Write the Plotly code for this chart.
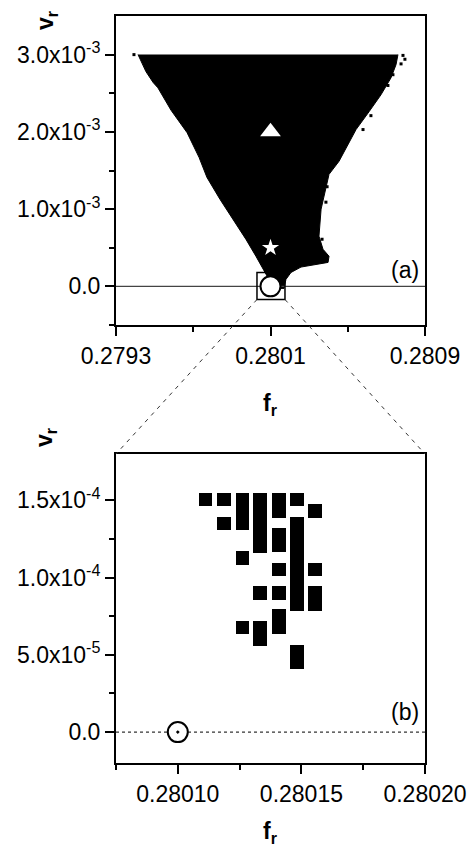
import plotly.graph_objects as go

# ---------------- Panel (a): stable region boundary ----------------
left_f = [0.279414, 0.279455, 0.279492, 0.279517, 0.279585, 0.279668, 0.279730,
          0.279771, 0.279839, 0.279906, 0.279973, 0.280025, 0.280061, 0.280097,
          0.280118]
left_v = [3.00e-3, 2.78e-3, 2.64e-3, 2.57e-3, 2.28e-3, 1.99e-3, 1.67e-3,
          1.41e-3, 1.125e-3, 0.867e-3, 0.608e-3, 0.388e-3, 0.220e-3, 0.052e-3,
          -0.026e-3]
right_f = [0.280170, 0.280180, 0.280206, 0.280258, 0.280398, 0.280403, 0.280372,
           0.280351, 0.280362, 0.280387, 0.280403, 0.280455, 0.280501, 0.280543,
           0.280610, 0.280672, 0.280724, 0.280750, 0.280760]
right_v = [-0.026e-3, 0.09e-3, 0.18e-3, 0.25e-3, 0.31e-3, 0.39e-3, 0.48e-3,
           0.65e-3, 1.00e-3, 1.29e-3, 1.45e-3, 1.62e-3, 1.84e-3, 2.03e-3,
           2.26e-3, 2.48e-3, 2.70e-3, 2.87e-3, 3.00e-3]
stray_f = [0.279393, 0.280786, 0.280796, 0.280776, 0.280734, 0.280708,
           0.280620, 0.280579, 0.280393, 0.280387, 0.280367]
stray_v = [3.00e-3, 2.99e-3, 2.94e-3, 2.88e-3, 2.74e-3, 2.60e-3,
           2.21e-3, 2.03e-3, 1.29e-3, 1.09e-3, 0.61e-3]

# special points in (a)
tri_f, tri_v = [0.2801], [2.0e-3]
star_f, star_v = [0.2801], [0.5e-3]
circ_f, circ_v = [0.2801], [0.0]
box_f = [0.28003, 0.280175]
box_v = [-0.17e-3, 0.18e-3]

# ---------------- Panel (b): zoomed cells ----------------
bar_f = [0.2801112,
         0.2801187, 0.2801187,
         0.2801262, 0.2801262, 0.2801262,
         0.2801333, 0.2801333, 0.2801333,
         0.2801409, 0.2801409, 0.2801409, 0.2801409, 0.2801409,
         0.2801482, 0.2801482, 0.2801482,
         0.2801555, 0.2801555, 0.2801555]
bar_lo = [14.61e-5,
          14.61e-5, 13.07e-5,
          13.10e-5, 10.84e-5, 6.36e-5,
          11.60e-5, 8.57e-5, 5.58e-5,
          13.83e-5, 11.64e-5, 10.08e-5, 8.57e-5, 6.34e-5,
          14.61e-5, 7.81e-5, 4.09e-5,
          13.88e-5, 10.08e-5, 7.81e-5]
bar_hi = [15.45e-5,
          15.45e-5, 13.94e-5,
          15.45e-5, 11.70e-5, 7.20e-5,
          15.45e-5, 9.44e-5, 7.20e-5,
          15.45e-5, 13.23e-5, 10.95e-5, 9.44e-5, 7.97e-5,
          15.45e-5, 13.94e-5, 5.65e-5,
          14.74e-5, 10.95e-5, 9.44e-5]
circ_b_f, circ_b_v = [0.28010], [0.0]

# axes
xa_range = [0.2793 - 1e-9, 0.2809 + 1e-9]
ya_range = [-0.5e-3, 3.5e-3]
xa_ticks = [0.2793, 0.2801, 0.2809]
xa_text = ["0.2793", "0.2801", "0.2809"]
ya_ticks = [0.0, 1.0e-3, 2.0e-3, 3.0e-3]
ya_text = ["0.0", "1.0x10<sup>-3</sup>", "2.0x10<sup>-3</sup>", "3.0x10<sup>-3</sup>"]

xb_range = [0.280075 - 1e-10, 0.28020 + 1e-10]
yb_range = [-2e-5, 1.8e-4]
xb_ticks = [0.28010, 0.28015, 0.28020]
xb_text = ["0.28010", "0.28015", "0.28020"]
yb_ticks = [0.0, 5.0e-5, 1.0e-4, 1.5e-4]
yb_text = ["0.0", "5.0x10<sup>-5</sup>", "1.0x10<sup>-4</sup>", "1.5x10<sup>-4</sup>"]

FONT = "Liberation Sans, Arial, sans-serif"
dom_a = [0.58635, 1.0]
dom_b = [0.0, 0.41365]

fig = go.Figure()

poly_f = left_f + right_f
poly_v = left_v + right_v
fig.add_trace(go.Scatter(x=poly_f, y=poly_v, mode="lines", fill="toself",
                         fillcolor="black", line=dict(color="black", width=1),
                         xaxis="x", yaxis="y", hoverinfo="skip"))
fig.add_trace(go.Scatter(x=stray_f, y=stray_v, mode="markers",
                         marker=dict(symbol="square", size=3, color="black"),
                         xaxis="x", yaxis="y"))
fig.add_trace(go.Scatter(x=xa_range, y=[0, 0], mode="lines",
                         line=dict(color="#444444", width=1.2), xaxis="x", yaxis="y"))
fig.add_trace(go.Scatter(x=tri_f, y=tri_v, mode="markers",
                         marker=dict(symbol="triangle-up", size=18, color="white",
                                     line=dict(width=0)), xaxis="x", yaxis="y"))
fig.add_trace(go.Scatter(x=star_f, y=star_v, mode="markers",
                         marker=dict(symbol="star", size=13, color="white",
                                     line=dict(width=0)), xaxis="x", yaxis="y"))
fig.add_trace(go.Scatter(x=circ_f, y=circ_v, mode="markers",
                         marker=dict(symbol="circle", size=20, color="white",
                                     line=dict(width=2, color="black")),
                         xaxis="x", yaxis="y"))

# panel b
fig.add_trace(go.Scatter(x=xb_range, y=[0, 0], mode="lines",
                         line=dict(color="black", width=1, dash="3px,3px"),
                         xaxis="x2", yaxis="y2"))
fig.add_trace(go.Bar(x=bar_f, y=[h - l for h, l in zip(bar_hi, bar_lo)], base=bar_lo,
                     width=5.4e-6, marker=dict(color="black", line=dict(width=0)),
                     xaxis="x2", yaxis="y2"))
fig.add_trace(go.Scatter(x=circ_b_f, y=circ_b_v, mode="markers",
                         marker=dict(symbol="circle-dot", size=20, color="white",
                                     line=dict(width=2, color="black")),
                         xaxis="x2", yaxis="y2"))

axis_common = dict(showline=True, linewidth=2, linecolor="black", mirror=True,
                   ticks="outside", ticklen=9, tickwidth=2, tickcolor="black",
                   showgrid=False, zeroline=False, automargin=False,
                   tickfont=dict(family=FONT, size=23, color="black"))

fig.update_layout(
    template="none",
    width=472, height=848,
    margin=dict(l=116, r=47, t=16, b=85, autoexpand=False),
    plot_bgcolor="white", paper_bgcolor="white",
    showlegend=False, barmode="overlay", bargap=0,
    xaxis=dict(domain=[0, 1], anchor="y", range=xa_range, tickmode="array",
               tickvals=xa_ticks, ticktext=xa_text,
               minor=dict(tickvals=[0.2797, 0.2805], ticklen=5, tickwidth=2,
                          ticks="outside", tickcolor="black"),
               **axis_common),
    yaxis=dict(domain=dom_a, anchor="x", range=ya_range, tickmode="array",
               tickvals=ya_ticks, ticktext=ya_text,
               minor=dict(tickvals=[-0.5e-3, 0.5e-3, 1.5e-3, 2.5e-3], ticklen=5,
                          tickwidth=2, ticks="outside", tickcolor="black"),
               **axis_common),
    xaxis2=dict(domain=[0, 1], anchor="y2", range=xb_range, tickmode="array",
                tickvals=xb_ticks, ticktext=xb_text,
                minor=dict(tickvals=[0.280075, 0.280125, 0.280175], ticklen=5,
                           tickwidth=2, ticks="outside", tickcolor="black"),
                **axis_common),
    yaxis2=dict(domain=dom_b, anchor="x2", range=yb_range, tickmode="array",
                tickvals=yb_ticks, ticktext=yb_text,
                minor=dict(tickvals=[2.5e-5, 7.5e-5, 1.25e-4], ticklen=5,
                           tickwidth=2, ticks="outside", tickcolor="black"),
                **axis_common),
)

# zoom box in (a)
fig.add_shape(type="rect", xref="x", yref="y", x0=box_f[0], x1=box_f[1],
              y0=box_v[0], y1=box_v[1], line=dict(color="black", width=1.5))


# connector lines (paper coordinates computed from axes ranges)
def to_paper_a(f, v):
    px = (f - xa_range[0]) / (xa_range[1] - xa_range[0])
    py = dom_a[0] + (dom_a[1] - dom_a[0]) * (v - ya_range[0]) / (ya_range[1] - ya_range[0])
    return px, py


for fx, bx in [(box_f[0], 0.0), (box_f[1], 1.0)]:
    x0, y0 = to_paper_a(fx, box_v[0])
    fig.add_shape(type="line", xref="paper", yref="paper", x0=x0, y0=y0,
                  x1=bx, y1=dom_b[1], line=dict(color="#333333", width=1, dash="4px,5px"))

lab_font = dict(family=FONT, size=23, color="black")
title_font = dict(family=FONT, size=23, color="black")
ann = dict(showarrow=False, xanchor="center", yanchor="middle")
fig.add_annotation(text="(a)", xref="x domain", yref="y domain", x=0.935, y=0.178,
                   font=lab_font, **ann)
fig.add_annotation(text="(b)", xref="x2 domain", yref="y2 domain", x=0.935, y=0.165,
                   font=lab_font, **ann)
fig.add_annotation(text="<b>v</b><sub><b>r</b></sub>", xref="paper", yref="paper",
                   x=-0.2265, y=0.9946, textangle=-90, font=title_font, **ann)
fig.add_annotation(text="<b>v</b><sub><b>r</b></sub>", xref="paper", yref="paper",
                   x=-0.23, y=0.4364, textangle=-90, font=title_font, **ann)
fig.add_annotation(text="<b>f</b><sub><b>r</b></sub>", xref="paper", yref="paper",
                   x=0.5016, y=0.502, showarrow=False, xanchor="center", yanchor="top",
                   font=title_font)
fig.add_annotation(text="<b>f</b><sub><b>r</b></sub>", xref="paper", yref="paper",
                   x=0.5016, y=-0.0710, showarrow=False, xanchor="center", yanchor="top",
                   font=title_font)

fig.write_html("out.html", config={"displayModeBar": False},
               post_script="document.body.style.margin='0px';")
